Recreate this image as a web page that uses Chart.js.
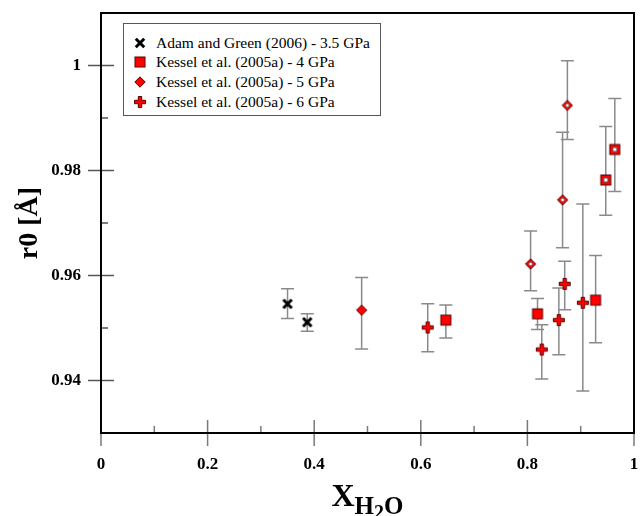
<!DOCTYPE html>
<html>
<head>
<meta charset="utf-8">
<script src="https://cdn.jsdelivr.net/npm/chart.js@4.4.1/dist/chart.umd.min.js"></script>
<style>
  body { margin: 0; background: #fff; }
  #wrap { position: relative; width: 640px; height: 516px; }
  #legend {
    position: absolute; left: 123px; top: 23px; width: 258px; height: 93px;
    box-sizing: border-box; border: 1px solid #555; background: #fff;
    font: 15.5px 'Liberation Serif', serif; color: #000;
  }
  .row { position: absolute; left: 0; height: 19.7px; line-height: 19.7px; white-space: nowrap; }
  .row img { position: absolute; left: 9px; top: 3px; }
  .row span { position: absolute; left: 32px; top: 0; }
  #xtitle {
    position: absolute; left: 101px; width: 533px; top: 479px; text-align: center;
    font: bold 32px 'Liberation Serif', serif; line-height: 32px; color: #000;
  }
  #xtitle .s1 { font-size: 25px; position: relative; top: 8px; }
  #xtitle .s2 { font-size: 20px; position: relative; top: 5px; }
</style>
</head>
<body>
<div id="wrap">
  <canvas id="chart" width="640" height="516"></canvas>
  <div id="legend"></div>
  <div id="xtitle">X<span class="s1">H<span class="s2">2</span>O</span></div>
</div>
<script>
// r0 vs water fraction, with error bars

const adamX = [0.350, 0.387];
const adamY = [0.9546, 0.9511];
const adamLo = [0.9518, 0.9494];
const adamHi = [0.9575, 0.9527];

const k4X = [0.647, 0.819, 0.928, 0.947, 0.964];
const k4Y = [0.9515, 0.9527, 0.9553, 0.9782, 0.9840];
const k4Lo = [0.9481, 0.9497, 0.9472, 0.9715, 0.9760];
const k4Hi = [0.9544, 0.9556, 0.9638, 0.9884, 0.9937];
const k4Hollow = [false, false, false, true, true];

const k5X = [0.489, 0.806, 0.866, 0.875];
const k5Y = [0.9534, 0.9622, 0.9744, 0.9924];
const k5Lo = [0.9460, 0.9571, 0.9653, 0.9859];
const k5Hi = [0.9596, 0.9685, 0.9873, 1.0009];
const k5Hollow = [false, true, true, true];

const k6X = [0.613, 0.827, 0.859, 0.870, 0.904];
const k6Y = [0.9501, 0.9459, 0.9515, 0.9584, 0.9548];
const k6Lo = [0.9455, 0.9403, 0.9449, 0.9535, 0.9380];
const k6Hi = [0.9546, 0.9506, 0.9576, 0.9627, 0.9736];

const seriesLabels = [
  "Adam and Green (2006) - 3.5 GPa",
  "Kessel et al. (2005a) - 4 GPa",
  "Kessel et al. (2005a) - 5 GPa",
  "Kessel et al. (2005a) - 6 GPa"
];

const SERIF = "'Liberation Serif', 'Times New Roman', serif";
const RED = "#ff0000";
const DARK = "#5a0000";

// small canvases used as point styles
function makeMarker(kind, hollow) {
  const s = 14, m = 7;
  const c = document.createElement("canvas");
  c.width = s; c.height = s;
  const g = c.getContext("2d");
  g.lineWidth = 1;
  if (kind === "x") {
    g.strokeStyle = "#000";
    g.lineWidth = 3;
    g.beginPath();
    g.moveTo(m - 4.2, m - 4.2); g.lineTo(m + 4.2, m + 4.2);
    g.moveTo(m + 4.2, m - 4.2); g.lineTo(m - 4.2, m + 4.2);
    g.stroke();
  } else if (kind === "square") {
    g.fillStyle = RED; g.strokeStyle = DARK;
    g.fillRect(m - 5, m - 5, 10, 10);
    g.strokeRect(m - 5, m - 5, 10, 10);
    if (hollow) {
      g.fillStyle = "#fff"; g.strokeStyle = "#555";
      g.fillRect(m - 2, m - 2, 4, 4);
      g.strokeRect(m - 2, m - 2, 4, 4);
    }
  } else if (kind === "diamond") {
    const diamond = (r) => {
      g.beginPath();
      g.moveTo(m, m - r); g.lineTo(m + r, m); g.lineTo(m, m + r); g.lineTo(m - r, m);
      g.closePath();
    };
    g.fillStyle = RED; g.strokeStyle = DARK;
    diamond(5.2); g.fill(); g.stroke();
    if (hollow) {
      g.fillStyle = "#fff"; g.strokeStyle = "#666";
      diamond(2.2); g.fill(); g.stroke();
    }
  } else if (kind === "plus") {
    const t = 1.7, r = 5.5;
    g.beginPath();
    g.moveTo(m - t, m - r); g.lineTo(m + t, m - r); g.lineTo(m + t, m - t);
    g.lineTo(m + r, m - t); g.lineTo(m + r, m + t); g.lineTo(m + t, m + t);
    g.lineTo(m + t, m + r); g.lineTo(m - t, m + r); g.lineTo(m - t, m + t);
    g.lineTo(m - r, m + t); g.lineTo(m - r, m - t); g.lineTo(m - t, m - t);
    g.closePath();
    g.fillStyle = RED; g.strokeStyle = DARK;
    g.fill(); g.stroke();
  }
  return c;
}

const markers = {
  x: makeMarker("x"),
  square: makeMarker("square", false),
  squareHollow: makeMarker("square", true),
  diamond: makeMarker("diamond", false),
  diamondHollow: makeMarker("diamond", true),
  plus: makeMarker("plus")
};

const toPoints = (xs, ys) => xs.map((x, i) => ({ x, y: ys[i] }));

const errLow = [adamLo, k4Lo, k5Lo, k6Lo];
const errHigh = [adamHi, k4Hi, k5Hi, k6Hi];

const datasets = [
  { label: seriesLabels[0], data: toPoints(adamX, adamY), pointStyle: markers.x },
  { label: seriesLabels[1], data: toPoints(k4X, k4Y),
    pointStyle: k4Hollow.map(h => h ? markers.squareHollow : markers.square) },
  { label: seriesLabels[2], data: toPoints(k5X, k5Y),
    pointStyle: k5Hollow.map(h => h ? markers.diamondHollow : markers.diamond) },
  { label: seriesLabels[3], data: toPoints(k6X, k6Y), pointStyle: markers.plus }
].map(d => ({ ...d, showLine: false, pointRadius: 5, pointHoverRadius: 5 }));

const errorBars = {
  id: "errorBars",
  beforeDatasetsDraw(chart) {
    const { ctx, scales: { x, y } } = chart;
    ctx.save();
    ctx.strokeStyle = "#8a8a8a";
    ctx.lineWidth = 1.5;
    chart.data.datasets.forEach((ds, di) => {
      ds.data.forEach((p, i) => {
        const px = x.getPixelForValue(p.x);
        const lo = y.getPixelForValue(errLow[di][i]);
        const hi = y.getPixelForValue(errHigh[di][i]);
        ctx.beginPath();
        ctx.moveTo(px, lo); ctx.lineTo(px, hi);
        ctx.moveTo(px - 6.5, lo); ctx.lineTo(px + 6.5, lo);
        ctx.moveTo(px - 6.5, hi); ctx.lineTo(px + 6.5, hi);
        ctx.stroke();
      });
    });
    ctx.restore();
  }
};

const frameTicks = {
  id: "frameTicks",
  afterDatasetsDraw(chart) {
    const { ctx, chartArea: a, scales: { x, y } } = chart;
    ctx.save();
    ctx.strokeStyle = "#7a7a7a";
    ctx.lineWidth = 1.5;
    x.ticks.forEach(t => {
      const k = Math.round(t.value * 10);
      const px = x.getPixelForValue(t.value);
      ctx.beginPath();
      if (k % 2 === 0) { ctx.moveTo(px, a.bottom + 13); ctx.lineTo(px, a.bottom - 13); }
      else { ctx.moveTo(px, a.bottom); ctx.lineTo(px, a.bottom - 7); }
      ctx.stroke();
    });
    ctx.strokeStyle = "#555";
    y.ticks.forEach(t => {
      const k = Math.round(t.value * 100);
      const py = y.getPixelForValue(t.value);
      if (k <= 93 || k >= 101) return;
      ctx.beginPath();
      if (k % 2 === 0) { ctx.moveTo(a.left - 13, py); ctx.lineTo(a.left + 13, py); }
      else { ctx.moveTo(a.left, py); ctx.lineTo(a.left + 7, py); }
      ctx.stroke();
    });
    ctx.strokeStyle = "#000";
    ctx.lineWidth = 2;
    ctx.strokeRect(a.left, a.top, a.right - a.left, a.bottom - a.top);
    ctx.restore();
  }
};

const tickFont = { family: SERIF, size: 17, weight: "bold" };
const hiddenGrid = {
  display: true, drawOnChartArea: false, drawTicks: true, tickLength: 13,
  color: "rgba(0,0,0,0)"
};

new Chart(document.getElementById("chart"), {
  type: "scatter",
  data: { datasets },
  options: {
    responsive: false,
    animation: false,
    devicePixelRatio: 1,
    layout: { padding: { top: 13, right: 6, left: 0, bottom: 0 } },
    plugins: { legend: { display: false }, tooltip: { enabled: false } },
    scales: {
      x: {
        type: "linear", min: 0, max: 1,
        grid: hiddenGrid,
        border: { display: false },
        ticks: {
          stepSize: 0.1, autoSkip: false, maxRotation: 0, maxTicksLimit: 20,
          color: "#000", font: tickFont, padding: 8,
          callback: v => Math.round(v * 10) % 2 === 0 ? String(Math.round(v * 10) / 10) : ""
        },
        afterFit(scale) {
          scale.height = 83;
          scale.paddingLeft = 0;
          scale.paddingRight = 0;
        }
      },
      y: {
        type: "linear", min: 0.93, max: 1.01,
        grid: hiddenGrid,
        border: { display: false },
        title: {
          display: true, text: "r0 [Å]", color: "#000",
          font: { family: SERIF, size: 28, weight: "bold" },
          padding: { top: 13, bottom: 0 }
        },
        ticks: {
          stepSize: 0.01, autoSkip: false, maxTicksLimit: 20,
          color: "#000", font: tickFont, padding: 7,
          callback: v => {
            const k = Math.round(v * 100);
            if (k % 2 !== 0 || k < 94 || k > 100) return "";
            return k === 100 ? "1" : (k / 100).toFixed(2);
          }
        },
        afterFit(scale) {
          scale.width = 101;
          scale.paddingTop = 0;
          scale.paddingBottom = 0;
        }
      }
    }
  },
  plugins: [errorBars, frameTicks]
});

// legend box inside the plot
const legendEl = document.getElementById("legend");
const legendMarkers = [markers.x, markers.square, markers.diamond, markers.plus];
seriesLabels.forEach((text, i) => {
  const row = document.createElement("div");
  row.className = "row";
  row.style.top = (8.5 + i * 19.7) + "px";
  const img = document.createElement("img");
  img.src = legendMarkers[i].toDataURL();
  const span = document.createElement("span");
  span.textContent = text;
  row.appendChild(img);
  row.appendChild(span);
  legendEl.appendChild(row);
});
</script>
</body>
</html>
